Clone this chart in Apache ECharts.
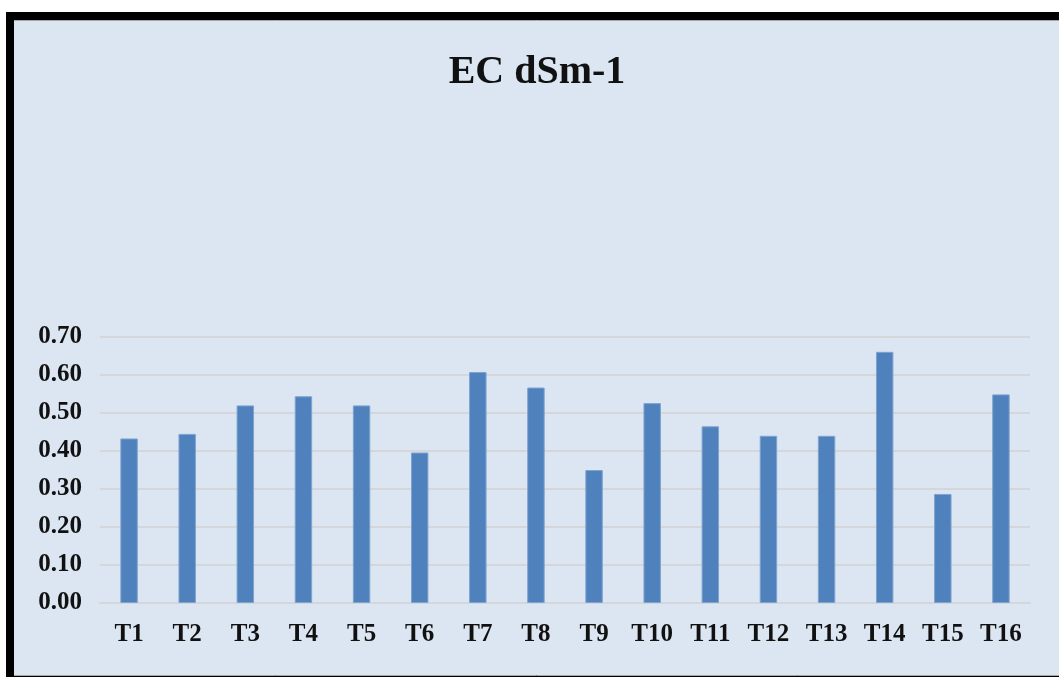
<!DOCTYPE html>
<html>
<head>
<meta charset="utf-8">
<script src="https://cdn.jsdelivr.net/npm/echarts@6/dist/echarts.min.js"></script>
<style>
  html, body { margin: 0; padding: 0; background: #ffffff; }
  #chart { width: 1059px; height: 677px; }
</style>
</head>
<body>
<div id="chart"></div>
<script>
// Treatments along the x axis
const categories = ['T1', 'T2', 'T3', 'T4', 'T5', 'T6', 'T7', 'T8',
                    'T9', 'T10', 'T11', 'T12', 'T13', 'T14', 'T15', 'T16'];
// Electrical conductivity per treatment (dS m-1)
const ecValues = [0.433, 0.445, 0.520, 0.544, 0.520, 0.396, 0.608, 0.567,
                  0.350, 0.526, 0.465, 0.440, 0.440, 0.661, 0.287, 0.549];
// Value axis range and step
const yMin = 0;
const yMax = 0.7;
const yStep = 0.1;
const titleText = 'EC dSm-1';

const serif = '"Liberation Serif", "DejaVu Serif", serif';
const chart = echarts.init(document.getElementById('chart'), null, { renderer: 'canvas' });

chart.setOption({
  backgroundColor: '#ffffff',
  animation: false,
  graphic: [
    // thick dark frame on the top and left edges
    { type: 'rect', z: -10, silent: true,
      shape: { x: 6, y: 12, width: 1053, height: 665 },
      style: { fill: '#000000' } },
    // pale blue plot panel
    { type: 'rect', z: -9, silent: true,
      shape: { x: 14, y: 20, width: 1045, height: 655 },
      style: { fill: '#dce6f2' } },
    // thin grey edges above and below the panel
    { type: 'line', z: -8, silent: true,
      shape: { x1: 14, y1: 20.5, x2: 1059, y2: 20.5 },
      style: { stroke: '#a6a6a6', lineWidth: 1 } },
    { type: 'line', z: -8, silent: true,
      shape: { x1: 14, y1: 675.5, x2: 1059, y2: 675.5 },
      style: { stroke: '#a6a6a6', lineWidth: 1 } }
  ],
  title: {
    text: titleText,
    left: 532,
    textAlign: 'center',
    top: 48,
    textStyle: {
      fontFamily: serif,
      fontWeight: 'bold',
      fontSize: 40,
      color: '#111111'
    }
  },
  grid: {
    left: 100,
    right: 29,
    top: 337,
    bottom: 74,
    containLabel: false
  },
  xAxis: {
    type: 'category',
    data: categories,
    axisLine: { show: true, lineStyle: { color: '#d4d6da', width: 2 } },
    axisTick: { show: false },
    axisLabel: {
      margin: 19,
      fontFamily: serif,
      fontWeight: 'bold',
      fontSize: 25,
      color: '#111111'
    }
  },
  yAxis: {
    type: 'value',
    min: yMin,
    max: yMax,
    interval: yStep,
    axisLine: { show: false },
    axisTick: { show: false },
    splitLine: { lineStyle: { color: '#d4d6da', width: 2 } },
    axisLabel: {
      margin: 18,
      fontFamily: serif,
      fontWeight: 'bold',
      fontSize: 25,
      color: '#111111',
      formatter: v => v.toFixed(2)
    }
  },
  series: [{
    type: 'bar',
    data: ecValues,
    barWidth: '30%',
    itemStyle: { color: '#4f81bd', borderColor: '#7fa3cf', borderWidth: 1 }
  }]
});
</script>
</body>
</html>
